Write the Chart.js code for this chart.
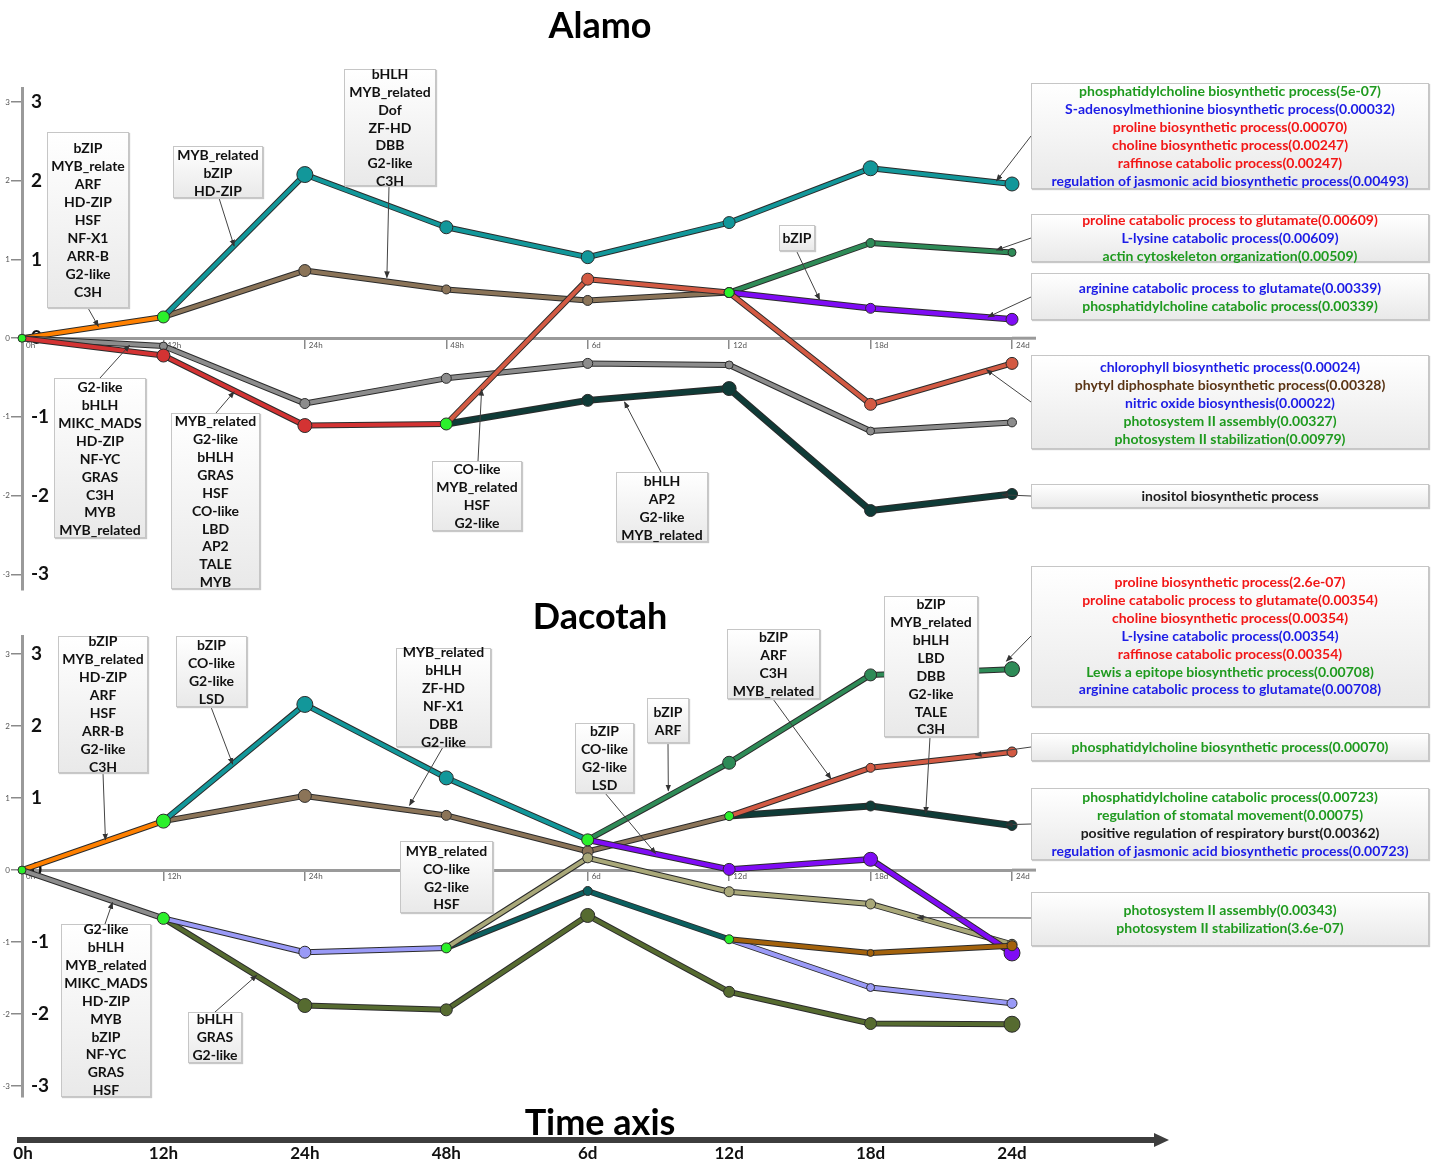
<!DOCTYPE html>
<html><head><meta charset="utf-8">
<script src="https://cdn.jsdelivr.net/npm/chart.js@4.4.1/dist/chart.umd.min.js"></script>
<style>
html,body{margin:0;padding:0;background:#fff;}
body{width:1437px;height:1164px;position:relative;overflow:hidden;font-family:Lato,"Open Sans",sans-serif;}
canvas{position:absolute;left:0;}
#c1{top:0;} #c2{top:600px;}
#ov{position:absolute;left:0;top:0;z-index:2;pointer-events:none;}
.box{position:absolute;z-index:3;background:linear-gradient(#ffffff,#e9e9e9);border:1px solid #c6c6c6;box-shadow:1px 1px 1px #c8c8c8;box-sizing:border-box;}
.box .in{position:absolute;left:0;width:100%;text-align:center;font-weight:700;font-size:14px;color:#111;white-space:nowrap;}
.go .in{font-size:14px;}
.title{position:absolute;z-index:4;font-weight:700;font-size:36px;line-height:36px;transform:translateX(-50%);white-space:nowrap;color:#000;}
.tl{position:absolute;z-index:4;font-weight:700;font-size:17px;line-height:17px;transform:translateX(-50%);color:#111;}
</style></head>
<body>
<canvas id="c1" width="1040" height="620" style="width:1040px;height:620px"></canvas>
<canvas id="c2" width="1040" height="530" style="width:1040px;height:530px"></canvas>
<svg id="ov" width="1437" height="1164"></svg>
<script>
// ---------- categories ----------
const timeLabels = ['0h','12h','24h','48h','6d','12d','18d','24d'];
const yTickValues = [-3,-2,-1,0,1,2,3];

// ---------- Alamo series ----------
const alamoOrange = [0, 0.27, null, null, null, null, null, null];
const alamoTeal   = [null, 0.27, 2.08, 1.41, 1.03, 1.47, 2.16, 1.96];
const alamoBrown  = [null, 0.27, 0.86, 0.62, 0.48, 0.58, null, null];
const alamoGreen  = [null, null, null, null, null, 0.58, 1.21, 1.09];
const alamoPurple = [null, null, null, null, null, 0.58, 0.38, 0.24];
const alamoCoral  = [null, null, null, -1.09, 0.75, 0.58, -0.84, -0.32];
const alamoRed    = [0, -0.22, -1.11, -1.09, null, null, null, null];
const alamoDark   = [null, null, null, -1.09, -0.79, -0.64, -2.19, -1.98];
const alamoGray   = [0, -0.10, -0.83, -0.51, -0.32, -0.34, -1.18, -1.07];
const alamoNodes  = [0, 0.27, null, -1.09, null, 0.58, null, null];

// ---------- Dacotah series ----------
const dacOrange   = [0, 0.68, null, null, null, null, null, null];
const dacTeal     = [null, 0.68, 2.30, 1.28, 0.42, null, null, null];
const dacBrown    = [null, 0.68, 1.03, 0.76, 0.26, 0.75, null, null];
const dacGreen    = [null, null, null, null, 0.42, 1.49, 2.71, 2.79];
const dacPurple   = [null, null, null, null, 0.42, 0.01, 0.15, -1.15];
const dacCoral    = [null, null, null, null, null, 0.75, 1.42, 1.64];
const dacDark     = [null, null, null, null, null, 0.75, 0.89, 0.62];
const dacGray     = [0, -0.67, null, null, null, null, null, null];
const dacLavender = [null, -0.67, -1.14, -1.08, null, null, null, null];
const dacOlive    = [null, -0.67, -1.88, -1.94, -0.63, -1.69, -2.13, -2.14];
const dacKhaki    = [null, null, null, -1.08, 0.17, -0.30, -0.47, -1.03];
const dacTeal2    = [null, null, null, -1.08, -0.29, -0.96, null, null];
const dacLavender2= [null, null, null, null, null, -0.96, -1.63, -1.85];
const dacAmber    = [null, null, null, null, null, -0.96, -1.15, -1.05];
const dacNodesUp  = [0, 0.68, null, null, 0.42, 0.75, null, null];
const dacNodesLow = [null, -0.67, null, -1.08, null, -0.96, null, null];

// ---------- annotation texts ----------
const alamoTF = [
 ['bZIP','MYB_relate','ARF','HD-ZIP','HSF','NF-X1','ARR-B','G2-like','C3H'],
 ['MYB_related','bZIP','HD-ZIP'],
 ['bHLH','MYB_related','Dof','ZF-HD','DBB','G2-like','C3H'],
 ['bZIP'],
 ['CO-like','MYB_related','HSF','G2-like'],
 ['bHLH','AP2','G2-like','MYB_related'],
 ['G2-like','bHLH','MIKC_MADS','HD-ZIP','NF-YC','GRAS','C3H','MYB','MYB_related'],
 ['MYB_related','G2-like','bHLH','GRAS','HSF','CO-like','LBD','AP2','TALE','MYB']
];
const dacTF = [
 ['bZIP','MYB_related','HD-ZIP','ARF','HSF','ARR-B','G2-like','C3H'],
 ['bZIP','CO-like','G2-like','LSD'],
 ['MYB_related','bHLH','ZF-HD','NF-X1','DBB','G2-like'],
 ['bZIP','CO-like','G2-like','LSD'],
 ['bZIP','ARF'],
 ['bZIP','ARF','C3H','MYB_related'],
 ['bZIP','MYB_related','bHLH','LBD','DBB','G2-like','TALE','C3H'],
 ['MYB_related','CO-like','G2-like','HSF'],
 ['G2-like','bHLH','MYB_related','MIKC_MADS','HD-ZIP','MYB','bZIP','NF-YC','GRAS','HSF'],
 ['bHLH','GRAS','G2-like']
];
const alamoGO = [
 [['g','phosphatidylcholine biosynthetic process(5e-07)'],['b','S-adenosylmethionine biosynthetic process(0.00032)'],['r','proline biosynthetic process(0.00070)'],['r','choline biosynthetic process(0.00247)'],['r','raffinose catabolic process(0.00247)'],['b','regulation of jasmonic acid biosynthetic process(0.00493)']],
 [['r','proline catabolic process to glutamate(0.00609)'],['b','L-lysine catabolic process(0.00609)'],['g','actin cytoskeleton organization(0.00509)']],
 [['b','arginine catabolic process to glutamate(0.00339)'],['g','phosphatidylcholine catabolic process(0.00339)']],
 [['b','chlorophyll biosynthetic process(0.00024)'],['n','phytyl diphosphate biosynthetic process(0.00328)'],['b','nitric oxide biosynthesis(0.00022)'],['g','photosystem II assembly(0.00327)'],['g','photosystem II stabilization(0.00979)']],
 [['k','inositol biosynthetic process']]
];
const dacGO = [
 [['r','proline biosynthetic process(2.6e-07)'],['r','proline catabolic process to glutamate(0.00354)'],['r','choline biosynthetic process(0.00354)'],['b','L-lysine catabolic process(0.00354)'],['r','raffinose catabolic process(0.00354)'],['g','Lewis a epitope biosynthetic process(0.00708)'],['b','arginine catabolic process to glutamate(0.00708)']],
 [['g','phosphatidylcholine biosynthetic process(0.00070)']],
 [['g','phosphatidylcholine catabolic process(0.00723)'],['g','regulation of stomatal movement(0.00075)'],['k','positive regulation of respiratory burst(0.00362)'],['b','regulation of jasmonic acid biosynthetic process(0.00723)']],
 [['g','photosystem II assembly(0.00343)'],['g','photosystem II stabilization(3.6e-07)']]
];
const goColors = {g:'#1f9a1f', b:'#1c1ce6', r:'#f21616', n:'#5a3414', k:'#1a1a1a'};

Chart.defaults.font.family = 'Lato';

// ---------- dataset builder ----------
function series(data, color, radii, width, order, noOutline) {
  const out = [];
  out.push({data, borderColor: color, backgroundColor: color, borderWidth: width,
    pointRadius: radii, pointBackgroundColor: color, pointBorderColor: '#2b2b2b', pointBorderWidth: 1,
    order: order, spanGaps: false});
  if (!noOutline) out.push({data, borderColor: '#2b2b2b', borderWidth: width + 2, pointRadius: 0, order: order + 0.5, spanGaps: false});
  return out;
}

const alamoSets = [
  ...series(alamoNodes, '#2bf02b', [4,6,0,6,0,5,0,0], 0, 0, true),
  ...series(alamoTeal, '#12979a', [0,0,8,6.5,6.5,6,7.5,7], 4, 1),
  ...series(alamoCoral, '#d35a43', [0,0,0,0,6,5,6,6], 4, 2),
  ...series(alamoPurple, '#7f0cf5', [0,0,0,0,0,5,5,6], 4.5, 3),
  ...series(alamoGreen, '#2e8b57', [0,0,0,0,0,0,4.5,4], 4, 4),
  ...series(alamoDark, '#0f3b37', [0,0,0,0,6,7,6,5.5], 5, 5),
  ...series(alamoRed, '#d33333', [0,6.5,7,0,0,0,0,0], 4, 6),
  ...series(alamoGray, '#8c8c8c', [0,4,5,5,5,4,4,4.5], 4, 7),
  ...series(alamoBrown, '#8b7458', [0,0,6,4.5,5,5,0,0], 4, 8),
  ...series(alamoOrange, '#ff8000', [0,0,0,0,0,0,0,0], 4, 9)
];
const dacSets = [
  ...series(dacNodesUp, '#2bf02b', [4,7,0,0,6,4.5,0,0], 0, 0, true),
  ...series(dacNodesLow, '#2bf02b', [0,6,0,5,0,4.5,0,0], 0, 0, true),
  ...series(dacAmber, '#a3620c', [0,0,0,0,0,0,3.5,5], 4, 1),
  ...series(dacPurple, '#7f0cf5', [0,0,0,0,0,6,7,8], 4.5, 2),
  ...series(dacGreen, '#2e8b57', [0,0,0,0,0,6.5,6,7.5], 4, 3),
  ...series(dacKhaki, '#a9a879', [0,0,0,0,5,5,5,5], 4, 4),
  ...series(dacTeal, '#12979a', [0,0,8,7,0,0,0,0], 4, 5),
  ...series(dacBrown, '#8b7458', [0,0,6.5,5,5.5,0,0,0], 4, 6),
  ...series(dacTeal2, '#0b5f5f', [0,0,0,0,4.5,0,0,0], 4, 7),
  ...series(dacLavender, '#9a9af7', [0,0,6,0,0,0,0,0], 4, 8),
  ...series(dacLavender2, '#9a9af7', [0,0,0,0,0,0,4,5], 4, 8.2),
  ...series(dacOlive, '#566b30', [0,0,7,6,7,5.5,6,8], 4, 9),
  ...series(dacCoral, '#d35a43', [0,0,0,0,0,0,4.5,5], 4, 10),
  ...series(dacDark, '#0f3b37', [0,0,0,0,0,0,5,5], 5, 11),
  ...series(dacGray, '#8c8c8c', [0,0,0,0,0,0,0,0], 4, 12),
  ...series(dacOrange, '#ff8000', [0,0,0,0,0,0,0,0], 4, 13)
];

const axisExt = {
  id: 'axisExt',
  afterDraw(chart) {
    const ctx = chart.ctx, ca = chart.chartArea;
    const y0 = chart.scales.y.getPixelForValue(0);
    ctx.save(); ctx.strokeStyle = '#9a9a9a'; ctx.lineWidth = 3;
    ctx.beginPath(); ctx.moveTo(ca.right, y0); ctx.lineTo(ca.right + 24, y0); ctx.stroke(); ctx.restore();
  }
};

function makeChart(id, datasets, yMin, yMax, area) {
  const intTicks = (s) => { s.ticks = yTickValues.map(v => ({value: v})); };
  const pad = {left: 0, top: area.top, right: 1040 - area.right, bottom: area.h - area.bottom};
  const chart = new Chart(document.getElementById(id), {
    type: 'line',
    data: {labels: timeLabels, datasets},
    plugins: [axisExt],
    options: {
      animation: false, responsive: false, events: [],
      layout: {padding: pad},
      plugins: {legend: {display: false}, tooltip: {enabled: false}},
      elements: {line: {tension: 0, borderCapStyle: 'round', borderJoinStyle: 'round'}},
      scales: {
        x: {type: 'category', position: {y: 0}, offset: false,
            grid: {display: true, drawOnChartArea: false, drawTicks: true, tickLength: 9, color: '#8a8a8a', lineWidth: 1.5},
            border: {display: true, color: '#9a9a9a', width: 3},
            ticks: {autoSkip: false, maxRotation: 0, minRotation: 0, align: 'start', padding: -7,
                    font: {size: 8}, color: '#555',
                    callback(v) { return '\u2002' + this.getLabelForValue(v); }},
            afterFit(s) { s.height = 0; }},
        y: {type: 'linear', position: 'left', min: yMin, max: yMax, weight: 1,
            grid: {display: true, drawOnChartArea: false, drawTicks: true, tickLength: 11, color: '#8a8a8a', lineWidth: 1.5},
            border: {display: true, color: '#9a9a9a', width: 3},
            ticks: {font: {size: 8}, color: '#555', padding: 1},
            afterBuildTicks: intTicks,
            afterFit(s) { s.width = 22; }},
        yBig: {type: 'linear', position: 'left', min: yMin, max: yMax, weight: 0,
            grid: {display: false}, border: {display: false},
            ticks: {mirror: true, padding: 9, font: {size: 19, weight: 'bold'}, color: '#111'},
            afterBuildTicks: intTicks,
            afterFit(s) { s.width = 0; }}
      }
    }
  });
  // calibrate so the value axis spans exactly the intended pixel range
  for (let k = 0; k < 3; k++) {
    const ca = chart.chartArea;
    pad.top = Math.max(0, pad.top + (area.top - ca.top));
    pad.bottom = Math.max(0, pad.bottom + (ca.bottom - area.bottom));
    pad.right = Math.max(0, pad.right + (ca.right - area.right));
    chart.options.layout.padding = {left: 0, top: pad.top, right: pad.right, bottom: pad.bottom};
    chart.update();
  }
  return chart;
}

const chart1 = makeChart('c1', alamoSets, -3.2, 3.18, {top: 88, bottom: 590, right: 1012, h: 620});
const chart2 = makeChart('c2', dacSets, -3.15, 3.25, {top: 36, bottom: 497, right: 1012, h: 530});

// ---------- HTML boxes ----------
function addBox(x, y, w, h, first, lines, lh, go) {
  const d = document.createElement('div');
  d.className = 'box' + (go ? ' go' : '');
  d.style.cssText = `left:${x}px;top:${y}px;width:${w}px;height:${h}px;`;
  const inner = document.createElement('div');
  inner.className = 'in';
  inner.style.top = (first - lh / 2 - y - 1) + 'px';
  inner.style.lineHeight = lh + 'px';
  lines.forEach(l => {
    const s = document.createElement('div');
    if (Array.isArray(l)) { s.textContent = l[1]; s.style.color = goColors[l[0]]; }
    else s.textContent = l;
    inner.appendChild(s);
  });
  d.appendChild(inner);
  document.body.appendChild(d);
}
const alamoBoxGeom = [[47,132,82,176,148,18],[173,146,90,52,155,18],[344,69,92,117,74,17.8],[779,225,36,26,238,18],
  [432,461,90,70,469,17.8],[616,472,92,70,481,17.8],[54,378,92,160,387,17.9],[171,413,89,176,421,17.9]];
alamoBoxGeom.forEach((g,i) => addBox(g[0],g[1],g[2],g[3],g[4],alamoTF[i],g[5]));
const dacBoxGeom = [[58,636,90,137,641,18],[176,636,71,71,645,17.8],[396,648,95,99,652,18],[575,723,59,70,731,18],
  [647,698,42,45,712,18],[727,629,93,70,637,18],[884,596,94,141,604,17.9],[400,841,93,72,851,17.8],
  [61,924,90,173,929,17.9],[188,1012,54,51,1019,18]];
dacBoxGeom.forEach((g,i) => addBox(g[0],g[1],g[2],g[3],g[4],dacTF[i],g[5]));
const alamoGOGeom = [[83,106,91],[214,48,220],[273,47,288],[355,94,367],[484,24,496]];
alamoGOGeom.forEach((g,i) => addBox(1031,g[0],398,g[1],g[2],alamoGO[i],17.9,true));
const dacGOGeom = [[566,141,582],[733,28,747],[788,72,797],[892,54,910]];
dacGOGeom.forEach((g,i) => addBox(1031,g[0],398,g[1],g[2],dacGO[i],17.9,true));

// ---------- titles ----------
function addText(cls, txt, x, y) {
  const d = document.createElement('div'); d.className = cls; d.textContent = txt;
  d.style.left = x + 'px'; d.style.top = y + 'px'; document.body.appendChild(d); return d;
}
addText('title', 'Alamo', 600, 6);
addText('title', 'Dacotah', 600, 597);
addText('title', 'Time axis', 600, 1103);

// ---------- arrows (tips in data space via chart scales) ----------
const NS = 'http://www.w3.org/2000/svg';
const svg = document.getElementById('ov');
svg.innerHTML = '<defs><marker id="ah" viewBox="0 0 10 10" refX="9" refY="5" markerWidth="7" markerHeight="7" markerUnits="userSpaceOnUse" orient="auto"><path d="M0,1 L10,5 L0,9 z" fill="#333"/></marker></defs>';
function tip(chart, offY, xi, v) {
  return [chart.scales.x.getPixelForValue(xi), offY + chart.scales.y.getPixelForValue(v)];
}
function arrow(from, to) {
  const l = document.createElementNS(NS, 'line');
  l.setAttribute('x1', from[0]); l.setAttribute('y1', from[1]);
  l.setAttribute('x2', to[0]); l.setAttribute('y2', to[1]);
  l.setAttribute('stroke', '#444'); l.setAttribute('stroke-width', '1');
  l.setAttribute('marker-end', 'url(#ah)');
  svg.appendChild(l);
}
const alamoArrows = [
  [[88,308],[0.54,0.15]], [[219,198],[1.50,1.17]], [[389,186],[2.58,0.77]], [[797,252],[5.64,0.49]],
  [[478,461],[3.25,-0.65]], [[661,472],[4.26,-0.81]], [[100,378],[0.76,-0.09]], [[216,413],[1.50,-0.68]],
  [[1031,136],[6.89,2.0]], [[1031,238],[6.89,1.12]], [[1031,297],[6.83,0.27]], [[1031,402],[6.82,-0.40]], [[1031,496],[6.93,-1.99]]
];
alamoArrows.forEach(a => arrow(a[0], tip(chart1, 0, a[1][0], a[1][1])));
const dacArrows = [
  [[103,773],[0.59,0.42]], [[211,707],[1.49,1.47]], [[443,747],[2.74,0.9]], [[605,793],[4.48,0.23]],
  [[668,743],[4.57,1.1]], [[773,699],[5.72,1.27]], [[930,737],[6.39,0.79]], [[105,924],[0.64,-0.45]],
  [[215,1012],[1.66,-1.46]], [[1031,636],[6.96,2.9]], [[1031,747],[6.74,1.6]], [[1031,824],[6.96,0.63]], [[1031,918],[6.33,-0.66]]
];
dacArrows.forEach(a => arrow(a[0], tip(chart2, 600, a[1][0], a[1][1])));

// ---------- time axis ----------
const ta = document.createElementNS(NS, 'line');
ta.setAttribute('x1', 17); ta.setAttribute('y1', 1140); ta.setAttribute('x2', 1158); ta.setAttribute('y2', 1140);
ta.setAttribute('stroke', '#3d3d3d'); ta.setAttribute('stroke-width', '6');
svg.appendChild(ta);
const th = document.createElementNS(NS, 'polygon');
th.setAttribute('points', '1154,1133 1169,1140 1154,1147'); th.setAttribute('fill', '#3d3d3d');
svg.appendChild(th);
timeLabels.forEach((lab, i) => {
  const x = chart1.scales.x.getPixelForValue(i);
  addText('tl', lab, i === 0 ? x + 1 : x, 1144);
});
</script>
</body></html>
